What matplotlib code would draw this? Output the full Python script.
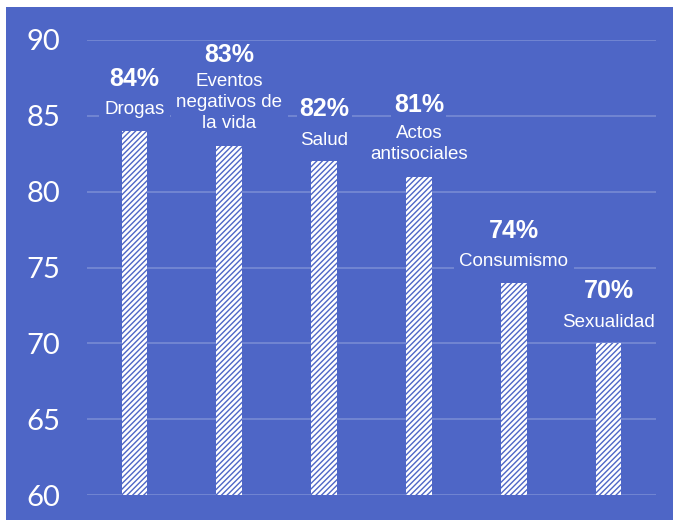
import matplotlib.pyplot as plt
from matplotlib.patches import Rectangle

plt.rcParams['font.family'] = ['Liberation Sans', 'DejaVu Sans']
plt.rcParams['hatch.linewidth'] = 1.0

# datos
categorias = ['Drogas', 'Eventos\nnegativos de\nla vida', 'Salud',
              'Actos\nantisociales', 'Consumismo', 'Sexualidad']
valores = [84, 83, 82, 81, 74, 70]
ticks_y = [60, 65, 70, 75, 80, 85, 90]

azul = '#4E66C6'
grid_color = '#7185D2'

fig = plt.figure(figsize=(6.73, 5.2), dpi=100)
fig.patches.append(Rectangle((6 / 673, 0), 1, 513 / 520, transform=fig.transFigure,
                             facecolor=azul, edgecolor='none', zorder=-10))

ax = fig.add_axes([87 / 673, 25 / 520, 569 / 673, 455 / 520])
ax.set_facecolor('none')

x = range(len(valores))
ax.bar(x, valores, width=0.27, color='white', edgecolor=azul, linewidth=0,
       hatch='//////', zorder=2)

ax.set_xlim(-0.5, len(valores) - 0.5)
ax.set_ylim(60, 90)
ax.set_yticks(ticks_y)
ax.set_xticks([])
ax.yaxis.grid(True, color=grid_color, linewidth=1.4, zorder=0)
ax.set_axisbelow(True)
for s in ax.spines.values():
    s.set_visible(False)
ax.tick_params(axis='y', length=0, pad=19, labelcolor='white', labelsize=21)
for lab in ax.get_yticklabels():
    lab.set_family(['Lato', 'DejaVu Sans'])

# etiquetas sobre las barras
for i, (cat, v) in enumerate(zip(categorias, valores)):
    n = cat.count('\n') + 1
    ax.annotate(cat, xy=(i, v), xytext=(0, 21 + 22.5 * (n - 1) / 2),
                textcoords='offset pixels', ha='center', va='center',
                color='white', fontsize=13.5, linespacing=1.3, zorder=3,
                bbox=dict(boxstyle='square,pad=0.3', facecolor=azul, edgecolor='none'))
    ax.annotate(f'{v}%', xy=(i, v), xytext=(0, 21 + 19.5 * (n - 1) + 31),
                textcoords='offset pixels', ha='center', va='center',
                color='white', fontsize=18, fontweight='bold', zorder=3,
                bbox=dict(boxstyle='square,pad=0.1', facecolor=azul, edgecolor='none'))

fig.savefig('out.png', dpi=100)
